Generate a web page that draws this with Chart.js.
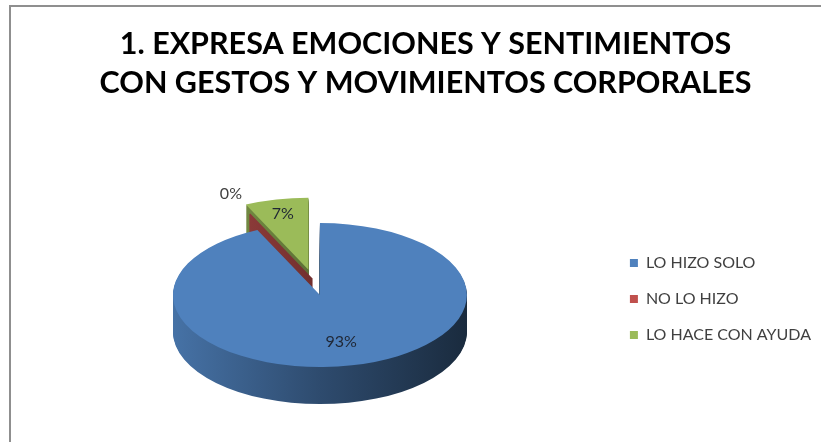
<!DOCTYPE html>
<html>
<head>
<meta charset="utf-8">
<script src="https://cdn.jsdelivr.net/npm/chart.js@4.4.1/dist/chart.umd.min.js"></script>
<style>
  html, body { margin: 0; padding: 0; background: #fff; }
  #contenedor { width: 821px; height: 442px; }
</style>
</head>
<body>
<div id="contenedor"><canvas id="grafico"></canvas></div>
<script>
// Datos del gráfico
const categorias = ['LO HIZO SOLO', 'NO LO HIZO', 'LO HACE CON AYUDA'];
const porcentajes = [93, 0, 7];
const tituloLineas = ['1. EXPRESA EMOCIONES Y SENTIMIENTOS', 'CON GESTOS Y MOVIMIENTOS CORPORALES'];

// Estilo
const colores = ['#4F81BD', '#C0504D', '#9BBB59'];
const INCLINACION = 0.49;   // achatamiento vertical del pastel
const PROFUNDIDAD = 37;     // grosor del lateral en píxeles
const SEPARACION = [0, 0.24, 0.36]; // explosión de cada porción (fracción del radio)
const FUENTE = 'Lato, "Open Sans", sans-serif';

// Oscurecer un color hexadecimal
function sombra(hex, f) {
  const n = parseInt(hex.slice(1), 16);
  const r = Math.round(((n >> 16) & 255) * f);
  const g = Math.round(((n >> 8) & 255) * f);
  const b = Math.round((n & 255) * f);
  return `rgb(${r}, ${g}, ${b})`;
}

// Geometría de una porción, ya desplazada por la explosión
function geometria(arcos, i) {
  const p = arcos[i].getProps(['x', 'y', 'startAngle', 'endAngle', 'outerRadius'], true);
  const medio = (p.startAngle + p.endAngle) / 2;
  const r = p.outerRadius;
  // una porción vacía se separa en la dirección de la porción siguiente
  let dir = medio;
  if (p.endAngle - p.startAngle < 0.001 && arcos[i + 1]) {
    const s = arcos[i + 1].getProps(['startAngle', 'endAngle'], true);
    dir = (s.startAngle + s.endAngle) / 2;
  }
  const dx = Math.cos(dir) * r * SEPARACION[i];
  const dy = Math.sin(dir) * r * SEPARACION[i] * INCLINACION;
  return { ...p, medio, r, dx, dy, cx: p.x + dx, cy: p.y + dy };
}

// Marco gris alrededor del gráfico
const marco = {
  id: 'marco',
  beforeDraw(chart) {
    const ctx = chart.ctx;
    ctx.save();
    ctx.strokeStyle = '#8f8f8f';
    ctx.lineWidth = 2;
    ctx.strokeRect(10, 6, chart.width + 20, chart.height + 20);
    ctx.restore();
  }
};

// Pastel en 3D: lateral por capas y cara superior con el propio arco
const pastel3D = {
  id: 'pastel3D',
  beforeDatasetsDraw(chart) {
    const ctx = chart.ctx;
    const arcos = chart.getDatasetMeta(0).data;
    const geos = arcos.map((a, i) => geometria(arcos, i));
    // de atrás hacia adelante
    const orden = arcos.map((a, i) => i).sort((i, j) => Math.sin(geos[i].medio) - Math.sin(geos[j].medio));

    orden.forEach(i => {
      const a = arcos[i];
      const g = geos[i];
      const color = a.options.backgroundColor;

      const grad = ctx.createLinearGradient(g.x - g.r, 0, g.x + g.r, 0);
      grad.addColorStop(0, sombra(color, 0.88));
      grad.addColorStop(0.5, sombra(color, 0.58));
      grad.addColorStop(1, sombra(color, 0.33));

      ctx.save();
      ctx.fillStyle = grad;
      ctx.strokeStyle = grad;
      ctx.lineWidth = 1.5;
      for (let d = PROFUNDIDAD; d >= 1; d--) {
        ctx.beginPath();
        if (g.endAngle - g.startAngle < 0.001) {
          // porción vacía: sólo se ve su pared
          ctx.moveTo(g.cx, g.cy + d);
          ctx.lineTo(g.cx + Math.cos(g.medio) * g.r, g.cy + d + Math.sin(g.medio) * g.r * INCLINACION);
          ctx.stroke();
        } else {
          ctx.moveTo(g.cx, g.cy + d);
          ctx.ellipse(g.cx, g.cy + d, g.r, g.r * INCLINACION, 0, g.startAngle, g.endAngle);
          ctx.closePath();
          ctx.fill();
        }
      }
      ctx.restore();

      // cara superior
      ctx.save();
      ctx.translate(g.dx, g.y + g.dy);
      ctx.scale(1, INCLINACION);
      ctx.translate(0, -g.y);
      a.draw(ctx);
      ctx.restore();
    });
    return false;
  }
};

// Etiquetas de porcentaje
const etiquetas = {
  id: 'etiquetas',
  afterDraw(chart) {
    const ctx = chart.ctx;
    const arcos = chart.getDatasetMeta(0).data;
    ctx.save();
    ctx.font = `16px ${FUENTE}`;
    ctx.textAlign = 'center';
    ctx.textBaseline = 'middle';
    arcos.forEach((a, i) => {
      const g = geometria(arcos, i);
      const valor = porcentajes[i];
      const f = valor === 0 ? 1.3 : (valor < 10 ? 0.8 : 0.66);
      const x = g.cx + Math.cos(g.medio) * g.r * f;
      const y = g.cy + Math.sin(g.medio) * g.r * f * INCLINACION;
      ctx.fillStyle = valor === 0 ? '#404040' : '#1f2633';
      ctx.fillText(valor + '%', x, y);
    });
    ctx.restore();
  }
};

const ctx = document.getElementById('grafico').getContext('2d');
new Chart(ctx, {
  type: 'pie',
  data: {
    labels: categorias,
    datasets: [{
      data: porcentajes,
      backgroundColor: colores,
      borderWidth: 0
    }]
  },
  options: {
    responsive: true,
    maintainAspectRatio: false,
    animation: false,
    layout: { padding: { left: 30, right: 0, top: 0, bottom: 0 } },
    plugins: {
      title: {
        display: true,
        text: tituloLineas,
        color: '#000',
        font: { family: FUENTE, size: 30.5, weight: 'bold', lineHeight: 1.28 },
        padding: { top: 25, bottom: 45 }
      },
      legend: {
        position: 'right',
        title: {
          display: true,
          text: ' ',
          font: { family: FUENTE, size: 16, lineHeight: 1 },
          padding: { top: 140, bottom: 0 }
        },
        labels: {
          boxWidth: 8,
          boxHeight: 8,
          padding: 20,
          color: '#404040',
          font: { family: FUENTE, size: 16 }
        }
      },
      tooltip: { enabled: false }
    }
  },
  plugins: [marco, pastel3D, etiquetas]
});
</script>
</body>
</html>
